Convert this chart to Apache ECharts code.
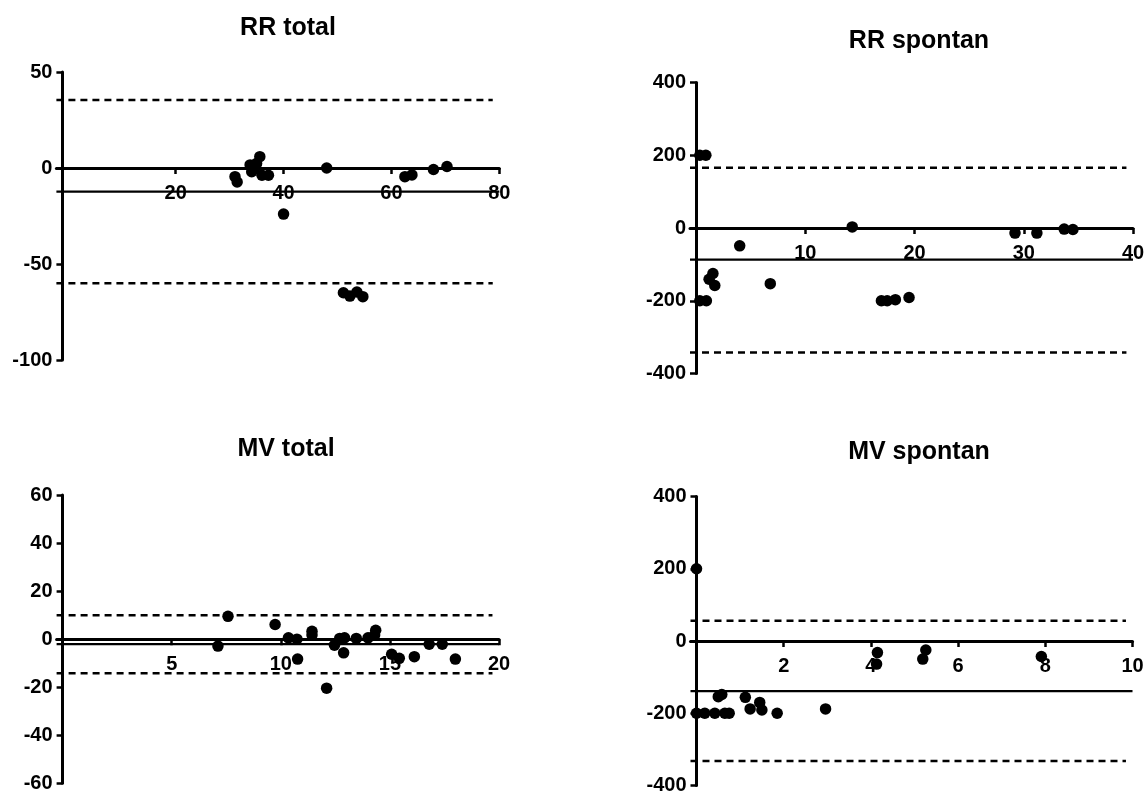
<!DOCTYPE html>
<html>
<head>
<meta charset="utf-8">
<script src="https://cdn.jsdelivr.net/npm/echarts@6/dist/echarts.min.js"></script>
<style>
html,body{margin:0;padding:0;background:#fff;}
#chart{width:1148px;height:797px;}
</style>
</head>
<body>
<div id="chart"></div>
<script>
// ---- Panel titles ----
const titles = ['RR total', 'RR spontan', 'MV total', 'MV spontan'];

// ---- RR total ----
const rrTotalX = [31.0, 31.4, 33.8, 34.1, 34.7, 35.0, 35.6, 36.0, 37.2, 40.0, 48.0, 51.1, 52.3, 53.6, 54.7, 62.5, 63.8, 67.8, 70.3];
const rrTotalY = [-4.5, -7.3, 1.6, -1.9, 0.0, 2.4, 5.9, -3.8, -3.8, -24.0, 0.0, -65.0, -66.7, -64.6, -67.0, -4.5, -3.6, -0.8, 0.8];
const rrTotalLines = [35.4, -12.3, -60.0];   // upper LoA, bias, lower LoA
const rrTotalXTicks = [20, 40, 60, 80];

// ---- RR spontan ----
const rrSpontX = [0.35, 0.9, 0.35, 0.95, 1.2, 1.55, 1.72, 4.0, 6.8, 14.3, 16.97, 17.5, 18.25, 19.5, 29.2, 31.2, 33.7, 34.5];
const rrSpontY = [200, 200, -200, -200, -141, -125, -158, -49, -153, 3, -200, -200, -197, -191, -14, -14, -3, -4];
const rrSpontLines = [165.5, -87.0, -342.0];
const rrSpontXTicks = [10, 20, 30, 40];

// ---- MV total ----
const mvTotalX = [7.12, 7.58, 9.74, 10.35, 10.74, 10.77, 11.43, 11.43, 12.1, 12.46, 12.7, 12.92, 12.88, 13.46, 14.0, 14.3, 14.35, 15.08, 15.43, 16.12, 16.8, 17.4, 18.0];
const mvTotalY = [-2.9, 9.5, 6.1, 0.55, 0.0, -8.3, 3.3, 1.7, -20.4, -2.5, 0.3, 0.55, -5.7, 0.3, 0.55, 1.7, 3.7, -6.3, -8.0, -7.3, -2.1, -2.1, -8.3];
const mvTotalLines = [9.9, -2.1, -14.2];
const mvTotalXTicks = [5, 10, 15, 20];

// ---- MV spontan ----
const mvSpontX = [0.0, 0.0, 0.19, 0.42, 0.65, 0.75, 0.5, 0.58, 1.12, 1.23, 1.45, 1.5, 1.85, 2.96, 4.15, 4.13, 5.19, 5.26, 7.91];
const mvSpontY = [200, -200, -200, -200, -200, -200, -154, -148, -156, -188, -170, -191, -200, -188, -32, -64, -50, -25, -43];
const mvSpontLines = [56, -139, -332];
const mvSpontXTicks = [2, 4, 6, 8, 10];

// ---- axis ranges (x range starts where the y axis sits) ----
const xRanges = [[-1, 80], [0, 40], [0, 20], [0, 10]];
const yRanges = [[-100, 50, 50], [-400, 400, 200], [-60, 60, 20], [-400, 400, 200]];

const FONT = '"Liberation Sans", Arial, Helvetica, sans-serif';

const panels = [
  {x: rrTotalX, y: rrTotalY, lines: rrTotalLines, ticks: rrTotalXTicks},
  {x: rrSpontX, y: rrSpontY, lines: rrSpontLines, ticks: rrSpontXTicks},
  {x: mvTotalX, y: mvTotalY, lines: mvTotalLines, ticks: mvTotalXTicks},
  {x: mvSpontX, y: mvSpontY, lines: mvSpontLines, ticks: mvSpontXTicks}
];

// plot area (pixels) measured at the y axis
const plotAreas = [
  {left: 62.4, top: 72, width: 436.9, height: 288},
  {left: 696, top: 82.5, width: 437, height: 291},
  {left: 62.6, top: 495, width: 436.4, height: 288.3},
  {left: 696.5, top: 496.5, width: 436, height: 289}
];
// reference lines start a little left of the y axis (like GraphPad)
const LEFT_PAD = 6;

const titlePos = [
  {left: 283, top: 11},
  {left: 914, top: 24},
  {left: 281, top: 432},
  {left: 914, top: 435}
];

const chart = echarts.init(document.getElementById('chart'), null, {renderer: 'canvas'});

const labelStyle = {color: '#000', fontSize: 20, fontWeight: 'bold', fontFamily: FONT};

const ext = panels.map((p, i) => {
  const a = plotAreas[i];
  const xmin = xRanges[i][0], xmax = xRanges[i][1];
  const pxPerUnit = a.width / (xmax - xmin);
  return {
    grid: {left: a.left - LEFT_PAD, top: a.top, width: a.width + LEFT_PAD, height: a.height},
    xmin: xmin - LEFT_PAD / pxPerUnit,
    xmax: xmax
  };
});

const option = {
  animation: false,
  backgroundColor: '#fff',
  title: titles.map((t, i) => ({
    text: t,
    left: titlePos[i].left,
    top: titlePos[i].top,
    textAlign: 'center',
    textStyle: {color: '#000', fontSize: 25, fontWeight: 'bold', fontFamily: FONT}
  })),
  grid: ext.map(e => Object.assign({containLabel: false}, e.grid)),
  xAxis: panels.map((p, i) => {
    const ymin = yRanges[i][0], ymax = yRanges[i][1];
    const zeroOffset = -plotAreas[i].height * (0 - ymin) / (ymax - ymin);
    return {
      gridIndex: i,
      type: 'value',
      position: 'bottom',
      offset: zeroOffset,
      min: ext[i].xmin,
      max: ext[i].xmax,
      axisLine: {show: true, onZero: false, lineStyle: {color: '#000', width: 3}},
      axisTick: {show: true, length: 6, customValues: p.ticks, lineStyle: {color: '#000', width: 2.5}},
      axisLabel: Object.assign({customValues: p.ticks, margin: 15}, labelStyle),
      splitLine: {show: false}
    };
  }),
  yAxis: panels.map((p, i) => ({
    gridIndex: i,
    type: 'value',
    position: 'left',
    offset: -LEFT_PAD,
    min: yRanges[i][0],
    max: yRanges[i][1],
    interval: yRanges[i][2],
    axisLine: {show: true, onZero: false, lineStyle: {color: '#000', width: 3}},
    axisTick: {show: true, length: 6, lineStyle: {color: '#000', width: 2.5}},
    axisLabel: Object.assign({margin: 10}, labelStyle),
    splitLine: {show: false}
  })),
  series: []
};

panels.forEach((p, i) => {
  const xmin = ext[i].xmin, xmax = ext[i].xmax;
  const span = xRanges[i][1] - xRanges[i][0];
  [p.lines[0], p.lines[2]].forEach(v => {
    option.series.push({
      type: 'line', xAxisIndex: i, yAxisIndex: i, silent: true,
      symbol: 'none', z: 1,
      data: [[xmin, v], [xmax - span * 0.015, v]],
      lineStyle: {color: '#000', width: 2.5, type: [7, 5], opacity: 1}
    });
  });
  option.series.push({
    type: 'line', xAxisIndex: i, yAxisIndex: i, silent: true,
    symbol: 'none', z: 1,
    data: [[xmin, p.lines[1]], [xmax, p.lines[1]]],
    lineStyle: {color: '#000', width: 2.2, type: 'solid', opacity: 1}
  });
  option.series.push({
    type: 'scatter', xAxisIndex: i, yAxisIndex: i, z: 3,
    symbol: 'circle', symbolSize: 11.5, clip: false,
    itemStyle: {color: '#000', opacity: 1},
    data: p.x.map((x, k) => [x, p.y[k]])
  });
});

chart.setOption(option);
</script>
</body>
</html>
